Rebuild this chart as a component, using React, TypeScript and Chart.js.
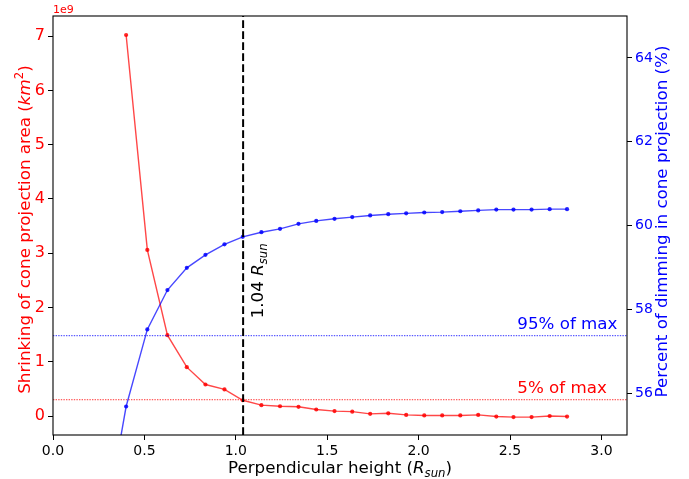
import React, { useEffect, useRef } from "react";
import { Chart, registerables } from "chart.js";

Chart.register(...registerables);

// Perpendicular height (R_sun)
const heights = [0.40, 0.516, 0.626, 0.732, 0.834, 0.938, 1.038, 1.14, 1.242, 1.343, 1.44, 1.54, 1.637, 1.735, 1.834, 1.932, 2.031, 2.129, 2.228, 2.326, 2.425, 2.519, 2.618, 2.717, 2.812];
// Shrinking of cone projection area (km^2)
const shrinkArea = [7.02e9, 3.06e9, 1.49e9, 0.90e9, 0.58e9, 0.49e9, 0.29e9, 0.20e9, 0.18e9, 0.17e9, 0.12e9, 0.09e9, 0.08e9, 0.04e9, 0.05e9, 0.02e9, 0.01e9, 0.01e9, 0.01e9, 0.02e9, -0.01e9, -0.02e9, -0.02e9, 0.0, -0.01e9];
// Percent of dimming (%) — includes one point below the visible range
const dimHeights = [0.30, 0.40, 0.516, 0.626, 0.732, 0.834, 0.938, 1.038, 1.14, 1.242, 1.343, 1.44, 1.54, 1.637, 1.735, 1.834, 1.932, 2.031, 2.129, 2.228, 2.326, 2.425, 2.519, 2.618, 2.717, 2.812];
const dimming = [53.2, 55.68, 57.52, 58.46, 58.99, 59.30, 59.55, 59.73, 59.84, 59.92, 60.04, 60.11, 60.16, 60.20, 60.24, 60.27, 60.29, 60.31, 60.32, 60.34, 60.36, 60.38, 60.38, 60.38, 60.39, 60.39];

const xTicks = [0, 0.5, 1.0, 1.5, 2.0, 2.5, 3.0];
const leftTicks = [0, 1e9, 2e9, 3e9, 4e9, 5e9, 6e9, 7e9];
const rightTicks = [56, 58, 60, 62, 64];

const xRange = [0, 3.14];
const leftRange = [-0.35e9, 7.37e9];
const rightRange = [55, 65];

const cutoffHeight = 1.04;
const dim95 = 57.37;
const shrink5 = 0.30e9;

const FONT = "'DejaVu Sans', sans-serif";

type Run = { t: string; italic?: boolean; scale?: number; dy?: number };

function runFont(r: Run, size: number) {
  const s = size * (r.scale ?? 1);
  return `${r.italic ? "italic " : ""}${s}px ${FONT}`;
}

function runsWidth(ctx: CanvasRenderingContext2D, runs: Run[], size: number) {
  let w = 0;
  for (const r of runs) {
    ctx.font = runFont(r, size);
    w += ctx.measureText(r.t).width;
  }
  return w;
}

function drawRuns(ctx: CanvasRenderingContext2D, runs: Run[], size: number, x0: number) {
  let x = x0;
  ctx.textBaseline = "alphabetic";
  ctx.textAlign = "left";
  for (const r of runs) {
    ctx.font = runFont(r, size);
    ctx.fillText(r.t, x, (r.dy ?? 0) * size);
    x += ctx.measureText(r.t).width;
  }
}

const textPlugin = {
  id: "textPlugin",
  afterDraw(chart: any) {
    const ctx: CanvasRenderingContext2D = chart.ctx;
    const { left, right, top, bottom } = chart.chartArea;
    const xs = chart.scales.x;
    const ys = chart.scales.y;
    const y1 = chart.scales.y1;
    ctx.save();
    ctx.strokeStyle = "#000";
    ctx.lineWidth = 1.1;
    ctx.strokeRect(left, top, right - left, bottom - top);

    const big = 16.7;
    const leftRuns: Run[] = [
      { t: "Shrinking of cone projection area (" },
      { t: "km", italic: true },
      { t: "2", scale: 0.7, dy: -0.42 },
      { t: ")" },
    ];
    ctx.fillStyle = "red";
    ctx.save();
    ctx.translate(30, (top + bottom) / 2 + 4);
    ctx.rotate(-Math.PI / 2);
    drawRuns(ctx, leftRuns, big, -runsWidth(ctx, leftRuns, big) / 2);
    ctx.restore();

    const rightRuns: Run[] = [{ t: "Percent of dimming in cone projection (%)" }];
    ctx.fillStyle = "blue";
    ctx.save();
    ctx.translate(667, (top + bottom) / 2 - 4);
    ctx.rotate(-Math.PI / 2);
    drawRuns(ctx, rightRuns, big, -runsWidth(ctx, rightRuns, big) / 2);
    ctx.restore();

    const xRuns: Run[] = [
      { t: "Perpendicular height (" },
      { t: "R", italic: true },
      { t: "sun", italic: true, scale: 0.7, dy: 0.22 },
      { t: ")" },
    ];
    ctx.fillStyle = "#000";
    ctx.save();
    ctx.translate((left + right) / 2, 473);
    drawRuns(ctx, xRuns, big, -runsWidth(ctx, xRuns, big) / 2);
    ctx.restore();

    ctx.fillStyle = "red";
    ctx.font = `11px ${FONT}`;
    ctx.textAlign = "left";
    ctx.textBaseline = "alphabetic";
    ctx.fillText("1e9", left, 13);

    const annRuns: Run[] = [
      { t: "1.04 " },
      { t: "R", italic: true },
      { t: "sun", italic: true, scale: 0.7, dy: 0.22 },
    ];
    ctx.fillStyle = "#000";
    ctx.save();
    ctx.translate(xs.getPixelForValue(cutoffHeight) + 20, ys.getPixelForValue(1.8e9));
    ctx.rotate(-Math.PI / 2);
    drawRuns(ctx, annRuns, big, 0);
    ctx.restore();

    ctx.font = `${big}px ${FONT}`;
    ctx.textAlign = "left";
    ctx.textBaseline = "alphabetic";
    ctx.fillStyle = "blue";
    ctx.fillText("95% of max", xs.getPixelForValue(2.54), y1.getPixelForValue(dim95) - 7);
    ctx.fillStyle = "red";
    ctx.fillText("5% of max", xs.getPixelForValue(2.54), ys.getPixelForValue(shrink5) - 7);
    ctx.restore();
  },
};

export default function App() {
  const ref = useRef<HTMLCanvasElement>(null);
  useEffect(() => {
    document.body.style.margin = "0";
    const canvas = ref.current!;
    const chart = new Chart(canvas, {
      type: "scatter",
      data: {
        datasets: [
          {
            label: "cutoff",
            data: [
              { x: cutoffHeight, y: leftRange[0] },
              { x: cutoffHeight, y: leftRange[1] },
            ],
            yAxisID: "y",
            showLine: true,
            borderColor: "#000",
            borderWidth: 2,
            borderDash: [7.7, 3.3],
            pointRadius: 0,
          },
          {
            label: "dimming",
            data: dimHeights.map((h, i) => ({ x: h, y: dimming[i] })),
            yAxisID: "y1",
            showLine: true,
            borderColor: "rgba(0,0,255,0.72)",
            borderWidth: 1.4,
            backgroundColor: "rgba(0,0,255,0.85)",
            pointBorderWidth: 0,
            pointRadius: 2.1,
          },
          {
            label: "95%",
            data: [
              { x: xRange[0], y: dim95 },
              { x: xRange[1], y: dim95 },
            ],
            yAxisID: "y1",
            showLine: true,
            borderColor: "rgba(0,0,255,0.8)",
            borderWidth: 1,
            borderDash: [1.4, 1.2],
            pointRadius: 0,
          },
          {
            label: "shrink",
            data: heights.map((h, i) => ({ x: h, y: shrinkArea[i] })),
            yAxisID: "y",
            showLine: true,
            borderColor: "rgba(255,0,0,0.72)",
            borderWidth: 1.4,
            backgroundColor: "rgba(255,0,0,0.85)",
            pointBorderWidth: 0,
            pointRadius: 2.1,
          },
          {
            label: "5%",
            data: [
              { x: xRange[0], y: shrink5 },
              { x: xRange[1], y: shrink5 },
            ],
            yAxisID: "y",
            showLine: true,
            borderColor: "rgba(255,0,0,0.8)",
            borderWidth: 1,
            borderDash: [1.4, 1.2],
            pointRadius: 0,
          },
        ],
      },
      options: {
        animation: false,
        responsive: false,
        devicePixelRatio: 1,
        layout: { padding: { top: 16, left: 0, right: 0, bottom: 0 } },
        plugins: { legend: { display: false }, tooltip: { enabled: false } },
        scales: {
          x: {
            type: "linear",
            position: "bottom",
            min: xRange[0],
            max: xRange[1],
            afterBuildTicks: (s: any) => {
              s.ticks = xTicks.map((v) => ({ value: v }));
            },
            afterFit: (s: any) => {
              s.height = 44;
            },
            ticks: {
              color: "#000",
              font: { family: FONT, size: 14 },
              padding: 3,
              maxRotation: 0,
              callback: (v: any) => Number(v).toFixed(1),
            },
            grid: { drawOnChartArea: false, drawTicks: true, tickLength: 5, color: "#000", lineWidth: 1 },
            border: { display: false },
          },
          y: {
            type: "linear",
            position: "left",
            min: leftRange[0],
            max: leftRange[1],
            afterBuildTicks: (s: any) => {
              s.ticks = leftTicks.map((v) => ({ value: v }));
            },
            afterFit: (s: any) => {
              s.width = 53;
            },
            ticks: {
              color: "red",
              font: { family: FONT, size: 16 },
              padding: 3,
              callback: (v: any) => String(Math.round(Number(v) / 1e9)),
            },
            grid: { drawOnChartArea: false, drawTicks: true, tickLength: 5, color: "#000", lineWidth: 1 },
            border: { display: false },
          },
          y1: {
            type: "linear",
            position: "right",
            min: rightRange[0],
            max: rightRange[1],
            afterBuildTicks: (s: any) => {
              s.ticks = rightTicks.map((v) => ({ value: v }));
            },
            afterFit: (s: any) => {
              s.width = 62;
            },
            ticks: {
              color: "blue",
              font: { family: FONT, size: 14 },
              padding: 3,
              callback: (v: any) => String(v),
            },
            grid: { drawOnChartArea: false, drawTicks: true, tickLength: 5, color: "#000", lineWidth: 1 },
            border: { display: false },
          },
        },
      },
      plugins: [textPlugin],
    } as any);
    return () => chart.destroy();
  }, []);
  return (
    <div style={{ position: "absolute", left: 0, top: 0, width: 689, height: 479, background: "#fff" }}>
      <canvas ref={ref} width={689} height={479} style={{ width: 689, height: 479 }} />
    </div>
  );
}
